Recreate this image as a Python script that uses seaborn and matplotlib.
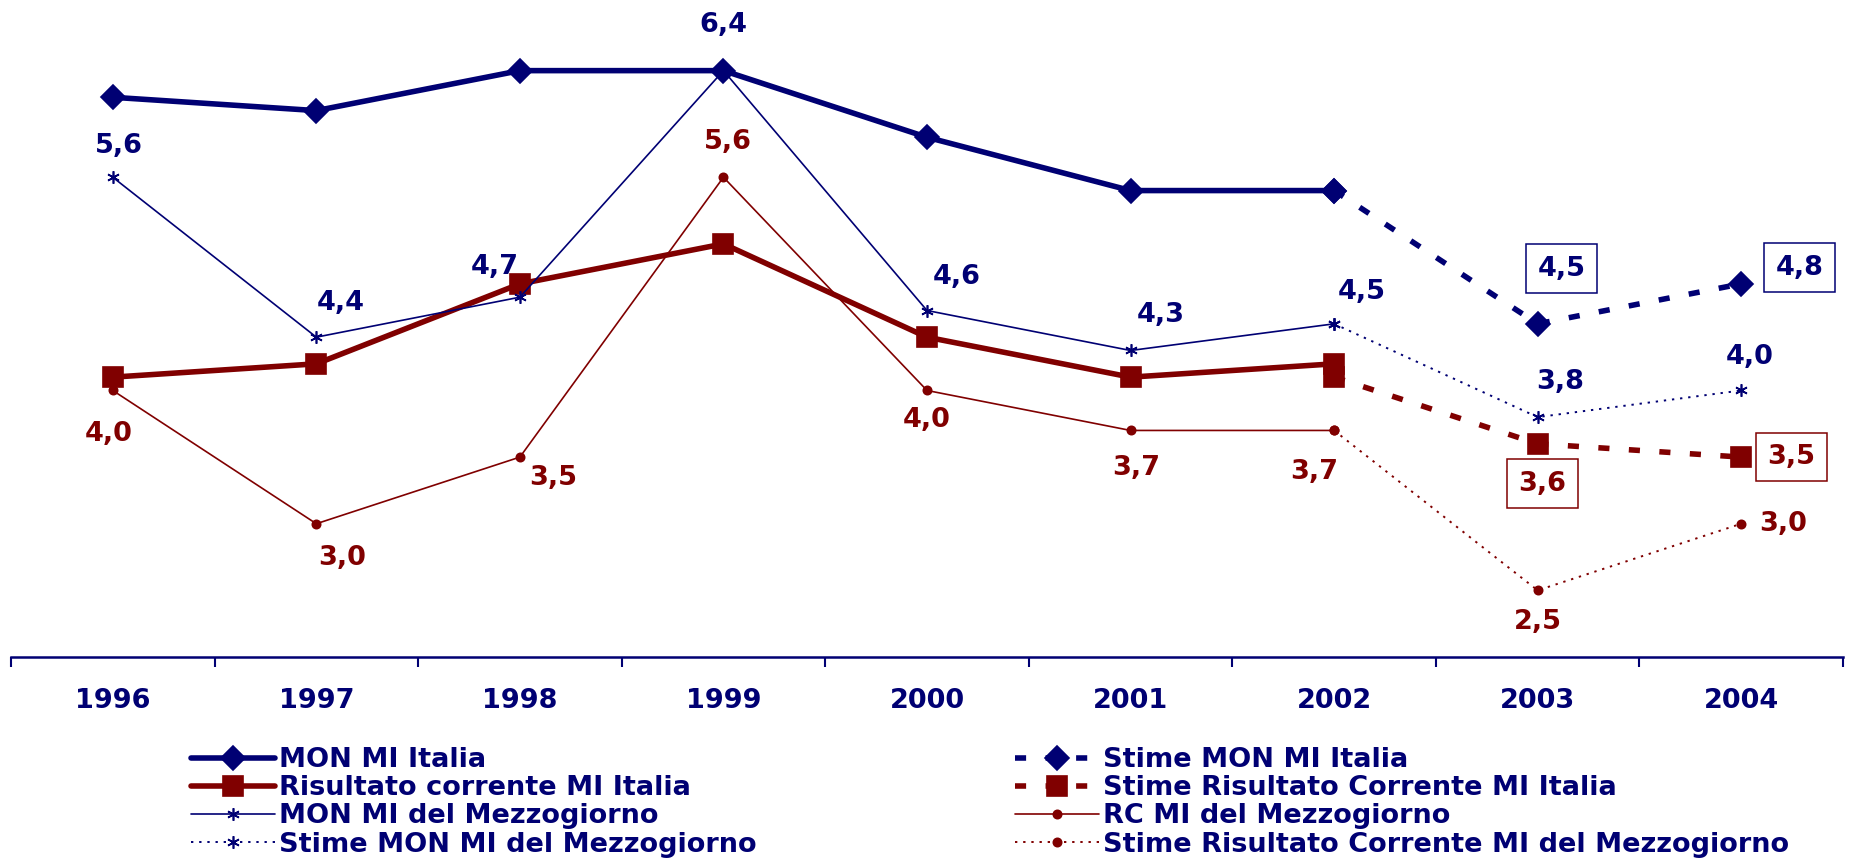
import numpy as np
import pandas as pd
import matplotlib
matplotlib.use("Agg")
import matplotlib.pyplot as plt
import seaborn as sns

sns.set_style("white")
plt.rcParams["font.family"] = ["DejaVu Sans"]
plt.rcParams["font.weight"] = "bold"

NAVY = "#000073"
DRED = "#800000"

# --- dati ---
years = ["1996", "1997", "1998", "1999", "2000", "2001", "2002", "2003", "2004"]
years_hist = years[:7]
years_est = years[6:]

mon_italia = [6.2, 6.1, 6.4, 6.4, 5.9, 5.5, 5.5]
stime_mon_italia = [5.5, 4.5, 4.8]
rc_italia = [4.1, 4.2, 4.8, 5.1, 4.4, 4.1, 4.2]
stime_rc_italia = [4.1, 3.6, 3.5]
mon_mezz = [5.6, 4.4, 4.7, 6.4, 4.6, 4.3, 4.5]
stime_mon_mezz = [4.5, 3.8, 4.0]
rc_mezz = [4.0, 3.0, 3.5, 5.6, 4.0, 3.7, 3.7]
stime_rc_mezz = [3.7, 2.5, 3.0]

pos = {y: i for i, y in enumerate(years)}


def fmt(v):
    return f"{v:.1f}".replace(".", ",")


fig = plt.figure(figsize=(18.51, 8.64), dpi=100)
ax = fig.add_axes([11 / 1851, 1 - 657 / 864, (1843 - 11) / 1851, 657 / 864])

series = [
    # label, x, y, color, lw, ls, marker, ms
    ("MON MI Italia", years_hist, mon_italia, NAVY, 4.0, "-", "D", 12),
    ("Risultato corrente MI Italia", years_hist, rc_italia, DRED, 4.0, "-", "s", 15),
    ("MON MI del Mezzogiorno", years_hist, mon_mezz, NAVY, 1.2, "-", (6, 2, 0), 9),
    ("Stime MON MI del Mezzogiorno", years_est, stime_mon_mezz, NAVY, 1.4, (0, (1.2, 3)), (6, 2, 0), 9),
    ("Stime MON MI Italia", years_est, stime_mon_italia, NAVY, 4.0, (0, (2, 3.5)), "D", 12),
    ("Stime Risultato Corrente MI Italia", years_est, stime_rc_italia, DRED, 4.0, (0, (2, 3.5)), "s", 15),
    ("RC MI del Mezzogiorno", years_hist, rc_mezz, DRED, 1.2, "-", "o", 6),
    ("Stime Risultato Corrente MI del Mezzogiorno", years_est, stime_rc_mezz, DRED, 1.4, (0, (1.2, 3)), "o", 6),
]

handles = []
for label, xs, ys, col, lw, ls, mk, ms in series:
    df = pd.DataFrame({"x": [pos[x] for x in xs], "y": ys})
    sns.lineplot(data=df, x="x", y="y", ax=ax, color=col, linewidth=lw,
                 linestyle=ls, marker=mk, markersize=ms, markeredgecolor=col,
                 markerfacecolor=col, markeredgewidth=1.2, legend=False)
    handles.append((ax.lines[-1], label))

# etichette
txt = dict(fontsize=19.5, fontweight="bold", ha="center", va="center",
           textcoords="offset pixels")

off_mon_mezz = [(6, 31), (24, 34), (-25, 30), (0, 46), (30, 34), (30, 35), (28, 32)]
off_stime_mon_mezz = [(22, 35), (8, 33)]
off_rc_mezz = [(-4, -44), (26, -34), (33, -21), (4, 35), (0, -30), (6, -38), (-20, -42)]
off_stime_rc_mezz = [(0, -32), (42, 0)]

for xs, ys, offs, col in [
    (years_hist, mon_mezz, off_mon_mezz, NAVY),
    (years_est[1:], stime_mon_mezz[1:], off_stime_mon_mezz, NAVY),
    (years_hist, rc_mezz, off_rc_mezz, DRED),
    (years_est[1:], stime_rc_mezz[1:], off_stime_rc_mezz, DRED),
]:
    for x, y, o in zip(xs, ys, offs):
        ax.annotate(fmt(y), (pos[x], y), xytext=o, color=col, **txt)

# etichette con riquadro (stime Italia)
for xs, ys, offs, col in [
    (years_est[1:], stime_mon_italia[1:], [(24, 55), (58, 16)], NAVY),
    (years_est[1:], stime_rc_italia[1:], [(5, -40), (50, 0)], DRED),
]:
    for x, y, o in zip(xs, ys, offs):
        ax.annotate(fmt(y), (pos[x], y), xytext=o, color=col,
                    bbox=dict(boxstyle="square,pad=0.42", fc="white", ec=col, lw=1.1),
                    **txt)

ax.set_xlim(-0.5, len(years) - 0.5)
ax.set_ylim(2.0, 6.93)
ax.set_xticks(range(len(years)))
ax.set_xticklabels(years, fontsize=19.5, fontweight="bold", color=NAVY)
ax.set_xticks(np.arange(-0.5, len(years), 1), minor=True)
ax.tick_params(axis="x", which="major", bottom=True, length=0, pad=22)
ax.tick_params(axis="x", which="minor", bottom=True, length=7.5, width=1.5,
               color=NAVY, direction="out")
ax.set_yticks([])
ax.set_xlabel("")
ax.set_ylabel("")
for s in ["top", "left", "right"]:
    ax.spines[s].set_visible(False)
ax.spines["bottom"].set_color(NAVY)
ax.spines["bottom"].set_linewidth(1.8)

leg_kw = dict(frameon=False, labelcolor=NAVY, handlelength=3.1,
              handletextpad=0.15, labelspacing=0.08, borderpad=0, borderaxespad=0,
              loc="upper left", prop={"weight": "bold", "size": 19.5})
left = handles[:4]
right = handles[4:]
fig.legend([h for h, _ in left], [l for _, l in left],
           bbox_to_anchor=(191 / 1851, 1 - 747 / 864), **leg_kw)
fig.legend([h for h, _ in right], [l for _, l in right],
           bbox_to_anchor=(1015 / 1851, 1 - 747 / 864), **leg_kw)

fig.savefig("out.png", dpi=100, facecolor="white")
